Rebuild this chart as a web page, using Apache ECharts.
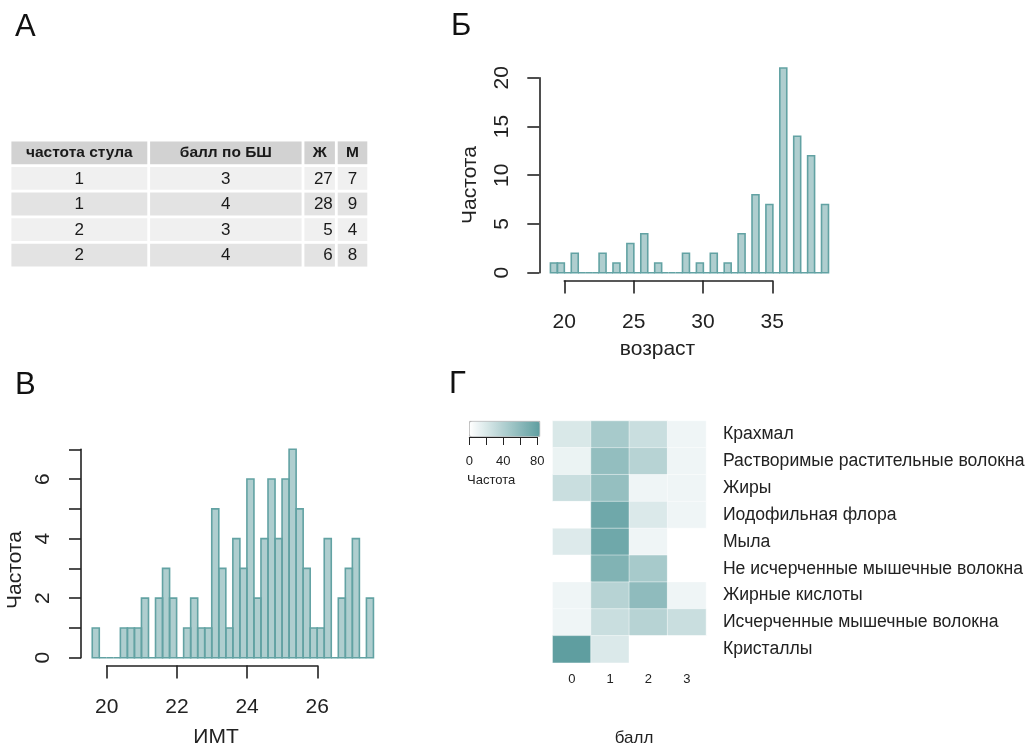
<!DOCTYPE html>
<html><head><meta charset="utf-8">
<script src="https://cdn.jsdelivr.net/npm/echarts@6/dist/echarts.min.js"></script>
<style>html,body{margin:0;padding:0;background:#fff}#c{width:1029px;height:747px}</style>
</head><body><div id="c"></div>
<script>
// ---------- Panel А: table ----------
const tableHeader = ['частота стула', 'балл по БШ', 'Ж', 'М'];
const stoolFreq = [1, 1, 2, 2];
const bsScore = [3, 4, 3, 4];
const countF = [27, 28, 5, 6];
const countM = [7, 9, 4, 8];

// ---------- Panel Б: age histogram (bins of 0.5 years) ----------
const ageBreaks = [19,19.5,20,20.5,21,21.5,22,22.5,23,23.5,24,24.5,25,25.5,26,26.5,27,27.5,28,28.5,29,29.5,30,30.5,31,31.5,32,32.5,33,33.5,34,34.5,35,35.5,36,36.5,37,37.5,38,38.5,39];
const ageCounts = [1,1,0,2,0,0,0,2,0,1,0,3,0,4,0,1,0,0,0,2,0,1,0,2,0,1,0,4,0,8,0,7,0,21,0,14,0,12,0,7];
const ageXTicks = [20, 25, 30, 35];

// ---------- Panel В: BMI histogram (bins of 0.2) ----------
const bmiBreaks = [19.6,19.8,20,20.2,20.4,20.6,20.8,21,21.2,21.4,21.6,21.8,22,22.2,22.4,22.6,22.8,23,23.2,23.4,23.6,23.8,24,24.2,24.4,24.6,24.8,25,25.2,25.4,25.6,25.8,26,26.2,26.4,26.6,26.8,27,27.2,27.4,27.6];
const bmiCounts = [1,0,0,0,1,1,1,2,0,2,3,2,0,1,2,1,1,5,3,1,4,3,6,2,4,6,4,6,7,5,3,1,1,4,0,2,3,4,0,2];

// ---------- Panel Г: heatmap ----------
const heatCols = ['0', '1', '2', '3'];
const heatRows = ['Крахмал', 'Растворимые растительные волокна', 'Жиры', 'Иодофильная флора', 'Мыла',
  'Не исчерченные мышечные волокна', 'Жирные кислоты', 'Исчерченные мышечные волокна', 'Кристаллы'];
const heatValues = [
  [19, 44, 27, 8],
  [10, 54, 36, 8],
  [27, 53, 8, 8],
  [0, 72, 18, 8],
  [17, 72, 8, 0],
  [0, 63, 44, 0],
  [8, 36, 56, 8],
  [8, 27, 36, 27],
  [80, 18, 0, 0]
];

// ---------- build ----------
const FONT = 'Liberation Sans';
const INK = '#222';
const TEAL = '#5f9ea0';

function histData(breaks, counts) {
  return counts.map((c, i) => [breaks[i], breaks[i + 1], c]);
}
function histItem(params, api) {
  const p0 = api.coord([api.value(0), 0]);
  const p1 = api.coord([api.value(1), api.value(2)]);
  return {
    type: 'rect',
    shape: { x: p0[0], y: p1[1], width: p1[0] - p0[0], height: p0[1] - p1[1] },
    style: { fill: 'rgba(95,158,160,0.5)', stroke: '#62a2a3', lineWidth: 1.6 }
  };
}

// table layout (column edges relative, in px units of the table grid)
const colEdges = [0, 138.7, 293, 326.3, 358.7];
const tableCells = [];
tableHeader.forEach((t, c) => tableCells.push([c, 0]));
for (let r = 0; r < stoolFreq.length; r++) for (let c = 0; c < 4; c++) tableCells.push([c, r + 1]);
function cellText(c, r) {
  if (r === 0) return tableHeader[c];
  const i = r - 1;
  return String([stoolFreq, bsScore, countF, countM][c][i]);
}
function tableItem(params, api) {
  const c = api.value(0), r = api.value(1);
  const p0 = api.coord([colEdges[c], r]);
  const p1 = api.coord([colEdges[c + 1], r + 1]);
  const g = 1.4;
  const fill = r === 0 ? '#d2d2d2' : (r % 2 === 1 ? '#f0f0f0' : '#e3e3e3');
  let tx = (p0[0] + p1[0]) / 2, align = 'center';
  if (c === 2 && r > 0) { tx = p1[0] - 3.5; align = 'right'; }
  return {
    type: 'group',
    children: [
      { type: 'rect', shape: { x: p0[0] + g, y: p0[1] + g, width: p1[0] - p0[0] - 2 * g, height: p1[1] - p0[1] - 2 * g },
        style: { fill: fill } },
      { type: 'text', x: tx, y: (p0[1] + p1[1]) / 2 + (r === 0 ? 0 : 0.5),
        style: { text: cellText(c, r), fill: '#1a1a1a', align: align, verticalAlign: 'middle',
          font: (r === 0 ? 'bold 15.5px ' : '17px ') + FONT } }
    ]
  };
}

const heatData = [];
heatValues.forEach((row, r) => row.forEach((v, c) => heatData.push([c, r, v])));

const histAxisY = (max, interval, fmt) => ({
  type: 'value', min: 0, max: max, interval: interval,
  axisLine: { show: true, lineStyle: { color: INK, width: 1.6 } },
  axisTick: { show: true, length: 12, lineStyle: { color: INK, width: 1.6 } },
  axisLabel: { rotate: 90, margin: 27, fontSize: 21, color: INK, fontFamily: FONT, formatter: fmt },
  splitLine: { show: false }
});
const tickAxisX = (min, max, interval, grid) => ({
  type: 'value', gridIndex: grid, min: min, max: max, interval: interval, position: 'bottom',
  axisLine: { show: true, onZero: false, lineStyle: { color: INK, width: 1.6 } },
  axisTick: { show: true, length: 13, lineStyle: { color: INK, width: 1.6 } },
  axisLabel: { margin: 31, fontSize: 21, color: INK, fontFamily: FONT },
  splitLine: { show: false }
});
const hiddenY = (grid) => ({ type: 'value', gridIndex: grid, show: false, min: 0, max: 1 });
const hiddenX = (grid, min, max) => ({ type: 'value', gridIndex: grid, show: false, min: min, max: max });

const option = {
  animation: false,
  backgroundColor: '#fff',
  textStyle: { fontFamily: FONT },
  grid: [
    { left: 10, top: 140, width: 358.7, height: 128 },          // 0 table
    { left: 539.3, top: 77.7, width: 300.3, height: 195 },       // 1 Б main
    { left: 564.3, top: 279.5, width: 208, height: 1 },          // 2 Б x axis
    { left: 81, top: 449.3, width: 303.7, height: 208.4 },       // 3 В main
    { left: 106.7, top: 664.5, width: 210.6, height: 1 },        // 4 В x axis
    { left: 552.7, top: 421, width: 153.2, height: 241.7 },      // 5 heatmap
    { left: 469.3, top: 436, width: 68, height: 1 }              // 6 legend axis
  ],
  xAxis: [
    hiddenX(0, 0, 358.7),
    hiddenX(1, 18.2, 39.8),
    tickAxisX(20, 35, 5, 2),
    hiddenX(3, 19.28, 27.92),
    tickAxisX(20, 26, 2, 4),
    { type: 'category', gridIndex: 5, data: heatCols, position: 'bottom',
      axisLine: { show: false }, axisTick: { show: false },
      axisLabel: { fontSize: 13, color: INK, margin: 10, fontFamily: FONT }, splitLine: { show: false } },
    { type: 'value', gridIndex: 6, min: 0, max: 80, interval: 20, position: 'bottom',
      axisLine: { show: true, onZero: false, lineStyle: { color: INK, width: 1 } },
      axisTick: { show: true, length: 8, lineStyle: { color: INK, width: 1 } },
      axisLabel: { margin: 18, fontSize: 13, color: INK, fontFamily: FONT,
        formatter: v => (v % 40 === 0 ? String(v) : '') },
      splitLine: { show: false } }
  ],
  yAxis: [
    { type: 'value', gridIndex: 0, show: false, min: 0, max: 5, inverse: true },
    Object.assign(histAxisY(20, 5), { gridIndex: 1 }),
    hiddenY(2),
    Object.assign(histAxisY(7, 1, v => (v % 2 === 0 ? String(v) : '')), { gridIndex: 3 }),
    hiddenY(4),
    { type: 'category', gridIndex: 5, data: heatRows, inverse: true, position: 'right',
      axisLine: { show: false }, axisTick: { show: false },
      axisLabel: { fontSize: 17.6, color: INK, margin: 17, align: 'left', fontFamily: FONT }, splitLine: { show: false } },
    hiddenY(6)
  ],
  visualMap: {
    type: 'continuous', seriesIndex: 3, min: 0, max: 80, orient: 'horizontal',
    left: 469.3, top: 421, itemWidth: 15, itemHeight: 70, padding: 0,
    calculable: false, hoverLink: false, text: null, showLabel: false,
    borderColor: '#9a9a9a', borderWidth: 0.8,
    inRange: { color: ['#ffffff', TEAL] }
  },
  series: [
    { type: 'custom', xAxisIndex: 0, yAxisIndex: 0, data: tableCells, renderItem: tableItem, silent: true },
    { type: 'custom', xAxisIndex: 1, yAxisIndex: 1, data: histData(ageBreaks, ageCounts), renderItem: histItem, clip: false, silent: true },
    { type: 'custom', xAxisIndex: 3, yAxisIndex: 3, data: histData(bmiBreaks, bmiCounts), renderItem: histItem, clip: false, silent: true },
    { type: 'heatmap', xAxisIndex: 5, yAxisIndex: 5, data: heatData, silent: true,
      itemStyle: { borderColor: 'rgba(255,255,255,0.45)', borderWidth: 1 } }
  ],
  graphic: [
    { type: 'text', left: 15, top: 12, style: { text: 'А', font: '31px ' + FONT, fill: '#111' } },
    { type: 'text', left: 451, top: 11, style: { text: 'Б', font: '31px ' + FONT, fill: '#111' } },
    { type: 'text', left: 15, top: 370, style: { text: 'В', font: '31px ' + FONT, fill: '#111' } },
    { type: 'text', left: 449, top: 369, style: { text: 'Г', font: '31px ' + FONT, fill: '#111' } },
    { type: 'text', x: 470, y: 185, rotation: Math.PI / 2,
      style: { text: 'Частота', font: '21px ' + FONT, fill: INK, align: 'center', verticalAlign: 'middle' } },
    { type: 'text', x: 657.5, y: 349,
      style: { text: 'возраст', font: '21px ' + FONT, fill: INK, align: 'center', verticalAlign: 'middle' } },
    { type: 'text', x: 15, y: 570, rotation: Math.PI / 2,
      style: { text: 'Частота', font: '21px ' + FONT, fill: INK, align: 'center', verticalAlign: 'middle' } },
    { type: 'text', x: 216, y: 737,
      style: { text: 'ИМТ', font: '21px ' + FONT, fill: INK, align: 'center', verticalAlign: 'middle' } },
    { type: 'text', x: 634, y: 738,
      style: { text: 'балл', font: '17px ' + FONT, fill: INK, align: 'center', verticalAlign: 'middle' } },
    { type: 'text', x: 467, y: 480,
      style: { text: 'Частота', font: '13px ' + FONT, fill: INK, align: 'left', verticalAlign: 'middle' } }
  ]
};

const chart = echarts.init(document.getElementById('c'), null, { renderer: 'canvas' });
chart.setOption(option);
</script>
</body></html>
